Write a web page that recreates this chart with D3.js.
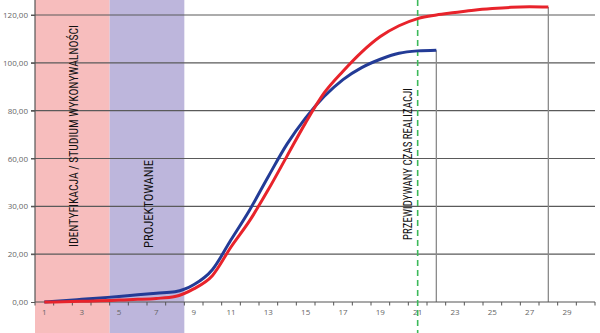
<!DOCTYPE html>
<html><head><meta charset="utf-8">
<script src="https://cdn.jsdelivr.net/npm/d3@7"></script>
<style>body{margin:0;background:#fff}svg{display:block}</style>
</head><body>
<svg id="c" width="600" height="333"></svg>
<script>
const categories = d3.range(1, 31);
const xTickLabels = [1,3,5,7,9,11,13,15,17,19,21,23,25,27,29];
const yTickValues = [0,20,40,60,80,100,120];
const yTickLabels = ["0,00","20,00","30,00","60,00","80,00","100,00","120,00"];
const blueValues = [0,0.5,1.1,1.7,2.3,3.0,3.7,4.3,7.2,13.5,26,38.5,52.5,66,77,86,93,98,101.5,104,105,105.3];
const redValues = [0,0.1,0.3,0.5,0.8,1.1,1.5,2.3,5.5,11,23,34,47,61,75,87.5,96.5,104.5,111,115.5,118.5,120,121,122,122.7,123.2,123.4,123.3];
const phases = [
  {name:"IDENTYFIKACJA / STUDIUM WYKONYWALNOŚCI", from:0.5, to:4.5, color:"#f7bdbd"},
  {name:"PROJEKTOWANIE", from:4.5, to:8.5, color:"#bdb6dc"}
];
const plannedEnd = 21;
const plannedLabel = "PRZEWIDYWANY CZAS REALIZACJI";

const svg = d3.select("#c");
const W = 600, H = 333;
const x = d3.scaleLinear().domain([0.5, 30.5]).range([35, 595]);
const y = d3.scaleLinear().domain([0, 120]).range([302, 15]);

// phase shading
svg.selectAll("rect.phase").data(phases).enter().append("rect")
  .attr("x", d => x(d.from)).attr("width", d => x(d.to) - x(d.from))
  .attr("y", 0).attr("height", H).attr("fill", d => d.color);

// gridlines
svg.append("g").selectAll("line").data(yTickValues.slice(1)).enter().append("line")
  .attr("x1", 31).attr("x2", 595).attr("y1", d => y(d)).attr("y2", d => y(d))
  .attr("stroke", "#5a5a5a").attr("stroke-width", 1.2);

// phase labels
const labelFont = "'Liberation Sans Narrow','Roboto Condensed','Arial Narrow',sans-serif";
const phaseLabelPos = [{cy:136, len:222}, {cy:204, len:88}];
phases.forEach((p, i) => {
  const cx = (x(p.from) + x(p.to)) / 2 + 1;
  svg.append("text").attr("transform", `translate(${cx},${phaseLabelPos[i].cy}) rotate(-90)`)
    .attr("text-anchor", "middle").attr("dy", "0.36em")
    .attr("font-family", labelFont).attr("font-size", 12.5).attr("fill", "#111")
    .attr("textLength", phaseLabelPos[i].len).attr("lengthAdjust", "spacingAndGlyphs")
    .text(p.name);
});
svg.append("text").attr("transform", `translate(${x(plannedEnd) - 10},164) rotate(-90)`)
  .attr("text-anchor", "middle").attr("dy", "0.36em")
  .attr("font-family", labelFont).attr("font-size", 12.5).attr("fill", "#111")
  .attr("textLength", 152).attr("lengthAdjust", "spacingAndGlyphs")
  .text(plannedLabel);

// grey end lines
[[blueValues.length, blueValues[blueValues.length-1]], [redValues.length, redValues[redValues.length-1]]].forEach(([c, v]) => {
  svg.append("line").attr("x1", x(c)).attr("x2", x(c)).attr("y1", y(v)).attr("y2", y(0))
    .attr("stroke", "#8a8a8a").attr("stroke-width", 1.3);
});

// axes
const yAxis = d3.axisLeft(y).tickValues(yTickValues).tickFormat((d, i) => yTickLabels[i]).tickSize(4).tickPadding(3);
const gy = svg.append("g").attr("transform", `translate(${x(0.5)},0)`).call(yAxis);
gy.select(".domain").attr("stroke", "#555").attr("stroke-width", 1.2).attr("d", `M0,0V${y(0)}`);
gy.selectAll(".tick line").attr("stroke", "#555");
gy.selectAll("text").attr("font-family", "'Open Sans',sans-serif").attr("font-size", 8).attr("fill", "#666");

const gx = svg.append("g").attr("transform", `translate(0,${y(0)})`);
gx.append("line").attr("x1", x(0.5)).attr("x2", x(30.5)).attr("stroke", "#555").attr("stroke-width", 1.2);
gx.selectAll("line.t").data(d3.range(0.5, 31, 1)).enter().append("line")
  .attr("x1", d => x(d)).attr("x2", d => x(d)).attr("y1", 0).attr("y2", 3.5)
  .attr("stroke", "#555");
gx.selectAll("text").data(xTickLabels).enter().append("text")
  .attr("x", d => x(d)).attr("y", 13).attr("text-anchor", "middle")
  .attr("font-family", "'Open Sans',sans-serif").attr("font-size", 8).attr("fill", "#666")
  .text(d => d);

// planned line
svg.append("line").attr("x1", x(plannedEnd)).attr("x2", x(plannedEnd)).attr("y1", 0).attr("y2", H)
  .attr("stroke", "#3cb95a").attr("stroke-width", 1.6).attr("stroke-dasharray", "6,4");

// curves
const line = d3.line().x((d, i) => x(categories[i])).y(d => y(d)).curve(d3.curveMonotoneX);
svg.append("path").datum(blueValues).attr("d", line).attr("fill", "none")
  .attr("stroke", "#233b96").attr("stroke-width", 3);
svg.append("path").datum(redValues).attr("d", line).attr("fill", "none")
  .attr("stroke", "#e8232b").attr("stroke-width", 3);
</script>
</body></html>
